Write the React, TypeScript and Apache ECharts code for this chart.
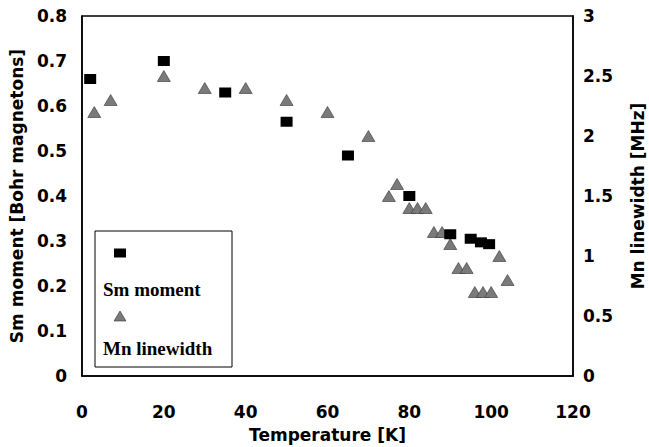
import React, { useEffect, useRef } from "react";
import * as echarts from "echarts";

const smTemperature = [2, 20, 35, 50, 65, 80, 90, 95, 97.5, 99.5];
const smMoment = [0.66, 0.7, 0.63, 0.565, 0.49, 0.4, 0.315, 0.305, 0.297, 0.293];

const mnTemperature = [3, 7, 20, 30, 40, 50, 60, 70, 75, 77, 80, 82, 84, 86, 88, 90, 92, 94, 96, 98, 100, 102, 104];
const mnLinewidth = [2.2, 2.3, 2.5, 2.4, 2.4, 2.3, 2.2, 2.0, 1.5, 1.6, 1.4, 1.4, 1.4, 1.2, 1.2, 1.1, 0.9, 0.9, 0.7, 0.7, 0.7, 1.0, 0.8];

const xTicks = [0, 20, 40, 60, 80, 100, 120];
const leftTicks = [0, 0.1, 0.2, 0.3, 0.4, 0.5, 0.6, 0.7, 0.8];
const rightTicks = [0, 0.5, 1, 1.5, 2, 2.5, 3];

const AXIS_FONT = "'DejaVu Sans', sans-serif";
const LEGEND_FONT = "'Liberation Serif', serif";

export default function App() {
  const ref = useRef<HTMLDivElement>(null);
  useEffect(() => {
    if (!ref.current) return;
    const chart = echarts.init(ref.current, undefined, { renderer: "svg" });
    const labelStyle = { color: "#000", fontFamily: AXIS_FONT, fontWeight: "bold" as const, fontSize: 17 };
    chart.setOption({
      animation: false,
      backgroundColor: "#fff",
      grid: {
        left: 82, right: 76, top: 16, bottom: 71,
        outerBoundsMode: "none", containLabel: false,
        show: true, borderColor: "#000", borderWidth: 1.5, backgroundColor: "transparent",
      },
      xAxis: {
        type: "value",
        min: xTicks[0],
        max: xTicks[xTicks.length - 1],
        interval: 20,
        name: "Temperature [K]",
        nameLocation: "middle",
        nameGap: 50,
        nameTextStyle: labelStyle,
        axisLine: { show: true, lineStyle: { color: "#000", width: 1.5 } },
        axisTick: { show: false },
        splitLine: { show: false },
        axisLabel: { ...labelStyle, margin: 27 },
      },
      yAxis: [
        {
          type: "value",
          min: leftTicks[0],
          max: leftTicks[leftTicks.length - 1],
          interval: 0.1,
          name: "Sm moment [Bohr magnetons]",
          nameLocation: "middle",
          nameRotate: 90,
          nameGap: 52,
          nameTextStyle: labelStyle,
          axisLine: { show: true, lineStyle: { color: "#000", width: 1.5 } },
          axisTick: { show: false },
          splitLine: { show: false },
          axisLabel: { ...labelStyle, margin: 15, formatter: (v: number) => (v === 0 ? "0" : v.toFixed(1)) },
        },
        {
          type: "value",
          position: "right",
          min: rightTicks[0],
          max: rightTicks[rightTicks.length - 1],
          interval: 0.5,
          name: "Mn linewidth [MHz]",
          nameLocation: "middle",
          nameRotate: 90,
          nameGap: 56,
          nameTextStyle: labelStyle,
          axisLine: { show: true, lineStyle: { color: "#000", width: 1.5 } },
          axisTick: { show: false },
          splitLine: { show: false },
          axisLabel: { ...labelStyle, margin: 10, formatter: (v: number) => String(v) },
        },
      ],
      series: [
        {
          name: "Sm moment",
          type: "scatter",
          yAxisIndex: 0,
          symbol: "rect",
          symbolSize: [12, 10],
          itemStyle: { color: "#000", opacity: 1 },
          data: smTemperature.map((t, i) => [t, smMoment[i]]),
          z: 3,
        },
        {
          name: "Mn linewidth",
          type: "scatter",
          yAxisIndex: 1,
          symbol: "triangle",
          symbolSize: [13, 11],
          itemStyle: { color: "#7a7a7a", borderColor: "#333", borderWidth: 0.6, opacity: 1 },
          data: mnTemperature.map((t, i) => [t, mnLinewidth[i]]),
          z: 2,
        },
      ],
      graphic: [
        {
          type: "rect",
          shape: { x: 95, y: 231, width: 137, height: 136 },
          style: { fill: "#fff", stroke: "#000", lineWidth: 1 },
          z: 10,
        },
        {
          type: "rect",
          shape: { x: 114, y: 248.5, width: 12, height: 9 },
          style: { fill: "#000" },
          z: 11,
        },
        {
          type: "text",
          x: 103,
          y: 289,
          style: { text: "Sm moment", fill: "#000", font: `bold 19px ${LEGEND_FONT}`, verticalAlign: "middle" },
          z: 11,
        },
        {
          type: "polygon",
          shape: { points: [[114, 321], [126, 321], [120, 311]] },
          style: { fill: "#7a7a7a", stroke: "#333", lineWidth: 0.6 },
          z: 11,
        },
        {
          type: "text",
          x: 103,
          y: 348,
          style: { text: "Mn linewidth", fill: "#000", font: `bold 19px ${LEGEND_FONT}`, verticalAlign: "middle" },
          z: 11,
        },
      ],
    });
    return () => chart.dispose();
  }, []);
  return <div ref={ref} style={{ position: "fixed", left: 0, top: 0, width: 649, height: 447, background: "#fff" }} />;
}
